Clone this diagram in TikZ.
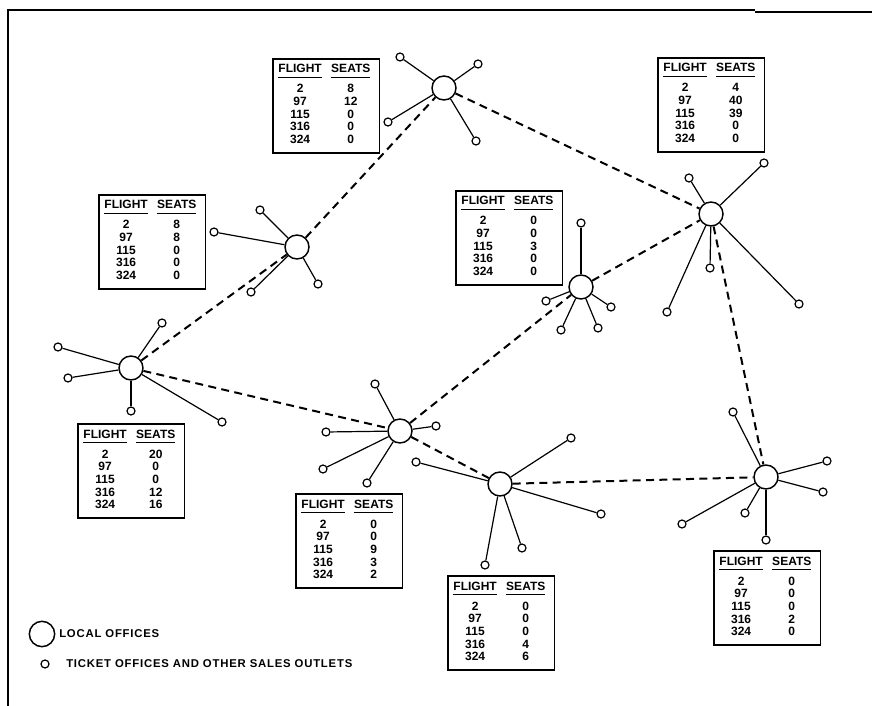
\documentclass[tikz,border=0pt]{standalone}
\usepackage{fontspec}
\setmainfont{Liberation Sans}
\usepackage{array}
\newfontfamily\lettering[LetterSpace=7]{Liberation Sans}
\newcommand{\hdr}[1]{\leavevmode\setbox0\hbox{#1}\rlap{\rule[-3.8pt]{\wd0}{1.1pt}}\box0}
\newcommand{\flighttable}[5]{%
\begin{tabular}{@{}>{\centering\arraybackslash}p{37pt}@{}>{\centering\arraybackslash}p{39pt}@{}}
\hdr{FLIGHT} & \hdr{SEATS}\\[5.5pt]
2 & #1\\ 97 & #2\\ 115 & #3\\ 316 & #4\\ 324 & #5
\end{tabular}}

\begin{document}
\begin{tikzpicture}[x=0.75pt,y=0.75pt,yscale=-1,xscale=1,
  office/.style={circle, draw, line width=1.1pt, minimum size=18pt, inner sep=0pt, fill=white},
  outlet/.style={circle, draw, line width=0.9pt, minimum size=6pt, inner sep=0pt, fill=white},
  spoke/.style={line width=0.9pt},
  route/.style={line width=1.5pt, dash pattern=on 6pt off 4pt},
  seatbox/.style={draw, line width=1.2pt, inner xsep=2pt, inner ysep=4pt, anchor=north west, font=\fontsize{9}{9.5}\selectfont\bfseries}]
\useasboundingbox (0,0) rectangle (872,706);
%Frame
\draw [line width=2pt] (8,706) -- (8,10) -- (755,10) ;
\draw [line width=1.5pt] (755,12) -- (872,12) ;

%Local offices
\node [office] (lo1) at (131,368) {};
\node [office] (lo2) at (297,247) {};
\node [office] (lo3) at (444,88) {};
\node [office] (lo4) at (711,214) {};
\node [office] (lo5) at (581,287) {};
\node [office] (lo6) at (400,431) {};
\node [office] (lo7) at (500,484) {};
\node [office] (lo8) at (766,477) {};

%Routes between local offices
\draw [route] (lo1) -- (lo2) ;
\draw [route] (lo2) -- (lo3) ;
\draw [route] (lo3) -- (lo4) ;
\draw [route] (lo1) -- (lo6) ;
\draw [route] (lo6) -- (lo5) ;
\draw [route] (lo5) -- (lo4) ;
\draw [route] (lo6) -- (lo7) ;
\draw [route] (lo7) -- (lo8) ;
\draw [route] (lo4) -- (lo8) ;

%Sales outlets round office 1
\node [outlet] (so11) at (58,347) {};
\node [outlet] (so12) at (68,378) {};
\node [outlet] (so13) at (162,323) {};
\node [outlet] (so14) at (131,411) {};
\node [outlet] (so15) at (222,422) {};
\draw [spoke] (lo1) -- (so11) ;
\draw [spoke] (lo1) -- (so12) ;
\draw [spoke] (lo1) -- (so13) ;
\draw [spoke] (lo1) -- (so14) ;
\draw [spoke] (lo1) -- (so15) ;
%Sales outlets round office 2
\node [outlet] (so21) at (260,210) {};
\node [outlet] (so22) at (214,232) {};
\node [outlet] (so23) at (251,292) {};
\node [outlet] (so24) at (318,284) {};
\draw [spoke] (lo2) -- (so21) ;
\draw [spoke] (lo2) -- (so22) ;
\draw [spoke] (lo2) -- (so23) ;
\draw [spoke] (lo2) -- (so24) ;
%Sales outlets round office 3
\node [outlet] (so31) at (400,57) {};
\node [outlet] (so32) at (478,64) {};
\node [outlet] (so33) at (388,122) {};
\node [outlet] (so34) at (476,141) {};
\draw [spoke] (lo3) -- (so31) ;
\draw [spoke] (lo3) -- (so32) ;
\draw [spoke] (lo3) -- (so33) ;
\draw [spoke] (lo3) -- (so34) ;
%Sales outlets round office 4
\node [outlet] (so41) at (689,178) {};
\node [outlet] (so42) at (764,163) {};
\node [outlet] (so43) at (710,268) {};
\node [outlet] (so44) at (667,312) {};
\node [outlet] (so45) at (799,304) {};
\draw [spoke] (lo4) -- (so41) ;
\draw [spoke] (lo4) -- (so42) ;
\draw [spoke] (lo4) -- (so43) ;
\draw [spoke] (lo4) -- (so44) ;
\draw [spoke] (lo4) -- (so45) ;
%Sales outlets round office 5
\node [outlet] (so51) at (581,223) {};
\node [outlet] (so52) at (546,301) {};
\node [outlet] (so53) at (561,330) {};
\node [outlet] (so54) at (598,328) {};
\node [outlet] (so55) at (611,307) {};
\draw [spoke] (lo5) -- (so51) ;
\draw [spoke] (lo5) -- (so52) ;
\draw [spoke] (lo5) -- (so53) ;
\draw [spoke] (lo5) -- (so54) ;
\draw [spoke] (lo5) -- (so55) ;
%Sales outlets round office 6
\node [outlet] (so61) at (375,384) {};
\node [outlet] (so62) at (326,432) {};
\node [outlet] (so63) at (323,469) {};
\node [outlet] (so64) at (367,483) {};
\node [outlet] (so65) at (436,426) {};
\draw [spoke] (lo6) -- (so61) ;
\draw [spoke] (lo6) -- (so62) ;
\draw [spoke] (lo6) -- (so63) ;
\draw [spoke] (lo6) -- (so64) ;
\draw [spoke] (lo6) -- (so65) ;
%Sales outlets round office 7
\node [outlet] (so71) at (571,438) {};
\node [outlet] (so72) at (416,462) {};
\node [outlet] (so73) at (485,565) {};
\node [outlet] (so74) at (522,548) {};
\node [outlet] (so75) at (601,514) {};
\draw [spoke] (lo7) -- (so71) ;
\draw [spoke] (lo7) -- (so72) ;
\draw [spoke] (lo7) -- (so73) ;
\draw [spoke] (lo7) -- (so74) ;
\draw [spoke] (lo7) -- (so75) ;
%Sales outlets round office 8
\node [outlet] (so81) at (733,412) {};
\node [outlet] (so82) at (827,461) {};
\node [outlet] (so83) at (823,492) {};
\node [outlet] (so84) at (745,513) {};
\node [outlet] (so85) at (766,540) {};
\node [outlet] (so86) at (682,524) {};
\draw [spoke] (lo8) -- (so81) ;
\draw [spoke] (lo8) -- (so82) ;
\draw [spoke] (lo8) -- (so83) ;
\draw [spoke] (lo8) -- (so84) ;
\draw [spoke, line width=2.2pt] (lo8) -- (so85) ;
\draw [spoke] (lo8) -- (so86) ;

%Seat tables
\node [seatbox] (seats3) at (272,58) {\flighttable{8}{12}{0}{0}{0}};
\node [seatbox] (seats4) at (657,57) {\flighttable{4}{40}{39}{0}{0}};
\node [seatbox] (seats2) at (98,194) {\flighttable{8}{8}{0}{0}{0}};
\node [seatbox] (seats5) at (455,190) {\flighttable{0}{0}{3}{0}{0}};
\node [seatbox] (seats1) at (77,423) {\flighttable{20}{0}{0}{12}{16}};
\node [seatbox] (seats6) at (295,493) {\flighttable{0}{0}{9}{3}{2}};
\node [seatbox] (seats7) at (447,575) {\flighttable{0}{0}{0}{4}{6}};
\node [seatbox] (seats8) at (713,550) {\flighttable{0}{0}{0}{2}{0}};

%Key
\node [office, minimum size=19pt] (key1) at (42,634) {};
\node [anchor=west, inner sep=0pt, font=\lettering\fontsize{8.5}{10}\selectfont\bfseries] (key1txt) at (59,634) {LOCAL OFFICES};
\node [outlet] (key2) at (45,664) {};
\node [anchor=west, inner sep=0pt, font=\lettering\fontsize{8.5}{10}\selectfont\bfseries] (key2txt) at (66,664) {TICKET OFFICES AND OTHER SALES OUTLETS};
\end{tikzpicture}
\end{document}
